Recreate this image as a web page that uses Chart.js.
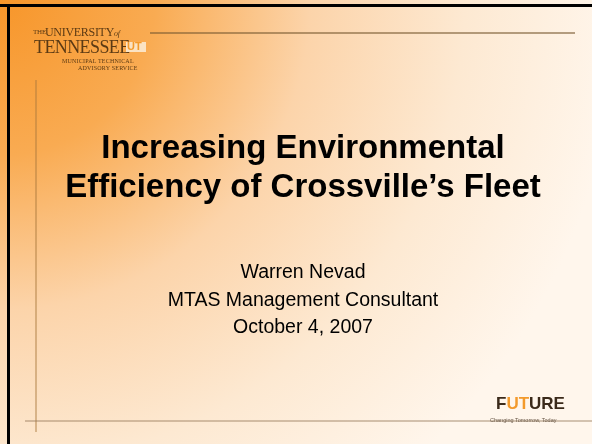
<!DOCTYPE html>
<html>
<head>
<meta charset="utf-8">
<script src="https://cdn.jsdelivr.net/npm/chart.js@4.4.0/dist/chart.umd.min.js"></script>
<style>
  html, body { margin: 0; padding: 0; width: 592px; height: 444px; overflow: hidden; background: #fff; }
  #slide { position: relative; width: 592px; height: 444px; overflow: hidden; }
  #slideCanvas { position: absolute; left: 0; top: 0; }
  .txt { position: absolute; left: 0; width: 606px; text-align: center; font-family: "Liberation Sans", Arial, sans-serif; color: #000; white-space: nowrap; }
  .title { font-weight: bold; font-size: 33px; line-height: 39px; top: 127px; }
  .sub { font-size: 19.5px; line-height: 27.5px; top: 258px; }
  .logo { position: absolute; font-family: "Liberation Serif", "Times New Roman", serif; color: #5b3a14; white-space: nowrap; }
  .future { position: absolute; font-family: "Liberation Sans", Arial, sans-serif; white-space: nowrap; }
</style>
</head>
<body>
<div id="slide">
  <canvas id="slideCanvas" width="592" height="444"></canvas>
  <div class="logo" style="left:33px; top:28px; font-size:7px; letter-spacing:-0.2px;">THE</div>
  <div class="logo" style="left:45px; top:25px; font-size:12px; letter-spacing:-0.3px;">UNIVERSITY<span style="font-size:8px; font-style:italic;">of</span></div>
  <div class="logo" style="left:34px; top:37px; font-size:18px; letter-spacing:-0.6px;">TENNESSEE</div>
  <div class="logo" style="left:126px; top:42px; width:20px; height:10px; background:#fbe3c4;"></div>
  <div class="logo" style="left:127px; top:40px; font-size:11px; font-weight:bold; color:#f39a2c; font-family:'Liberation Sans', Arial;">UT</div>
  <div class="logo" style="left:62px; top:58px; font-size:6px; letter-spacing:0.2px;">MUNICIPAL TECHNICAL</div>
  <div class="logo" style="left:78px; top:65px; font-size:6px; letter-spacing:0.2px;">ADVISORY SERVICE</div>

  <div class="txt title">Increasing Environmental<br>Efficiency of Crossville’s Fleet</div>
  <div class="txt sub">Warren Nevad<br>MTAS Management Consultant<br>October 4, 2007</div>

  <div class="future" style="left:496px; top:394px; font-size:17px; font-weight:bold; color:#3b2a1a;">F<span style="color:#f39a2c;">UT</span>URE</div>
  <div class="future" style="left:490px; top:417px; font-size:5.5px; color:#6b5a4a;">Changing Tomorrow, Today</div>
</div>
<script>
// slide has no data series: only the decorative rules of the template
const topRule = { y: 33, x0: 150, x1: 575 };
const leftRule = { x: 36, y0: 80, y1: 432 };
const bottomRule = { y: 421, x0: 25, x1: 592 };

const slideBackground = {
    id: 'slideBackground',
    beforeDraw(chart) {
        const ctx = chart.ctx;
        const w = chart.width, h = chart.height;
        ctx.save();
        // orange to cream glow from the top left corner
        const g = ctx.createRadialGradient(0, 0, 0, 0, 0, 620);
        g.addColorStop(0, '#f7962a');
        g.addColorStop(0.25, '#f9ab52');
        g.addColorStop(0.5, '#fcd4aa');
        g.addColorStop(0.75, '#fde9d2');
        g.addColorStop(1, '#fff6ec');
        ctx.fillStyle = g;
        ctx.fillRect(0, 0, w, h);

        // black frame on top and left
        ctx.fillStyle = '#000';
        ctx.fillRect(0, 4, w, 3);
        ctx.fillRect(7, 4, 3, h - 4);

        // thin rules
        ctx.lineWidth = 1.5;
        ctx.strokeStyle = 'rgba(120, 90, 50, 0.75)';
        ctx.beginPath();
        ctx.moveTo(topRule.x0, topRule.y);
        ctx.lineTo(topRule.x1, topRule.y);
        ctx.stroke();

        ctx.strokeStyle = 'rgba(170, 120, 60, 0.6)';
        ctx.beginPath();
        ctx.moveTo(leftRule.x, leftRule.y0);
        ctx.lineTo(leftRule.x, leftRule.y1);
        ctx.stroke();

        ctx.strokeStyle = 'rgba(150, 120, 90, 0.55)';
        ctx.beginPath();
        ctx.moveTo(bottomRule.x0, bottomRule.y);
        ctx.lineTo(bottomRule.x1, bottomRule.y);
        ctx.stroke();
        ctx.restore();
    }
};

new Chart(document.getElementById('slideCanvas'), {
    type: 'scatter',
    data: { datasets: [] },
    options: {
        responsive: false,
        animation: false,
        devicePixelRatio: 1,
        plugins: { legend: { display: false }, tooltip: { enabled: false } },
        scales: { x: { display: false }, y: { display: false } }
    },
    plugins: [slideBackground]
});
</script>
</body>
</html>
